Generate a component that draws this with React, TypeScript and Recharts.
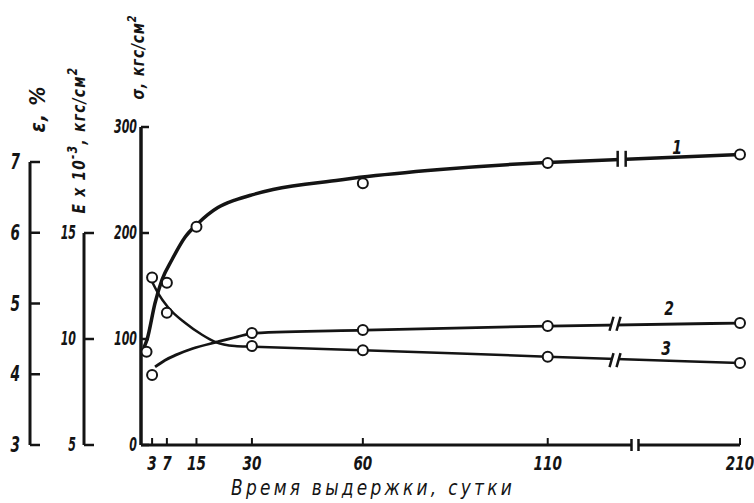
import React from 'react';
import { ComposedChart, LineChart, Line, XAxis, YAxis, ReferenceDot } from 'recharts';

// ---- axis ticks ----
const dayTicks = [3, 7, 15, 30, 60, 110, 210];
const sigmaTicks = [0, 100, 200, 300];
const modulusTicks = [5, 10, 15];
const strainTicks = [3, 4, 5, 6, 7];

// ---- curve 1: tensile strength σ, kgf/cm² ----
const sigmaCurveDays = [0.8, 1.6, 3.8, 5.7, 8.4, 11.9, 15.4, 20.8, 25.4, 30, 35.7, 53.8, 59.2, 80.9, 99, 110, 210];
const sigmaCurveVals = [92, 99, 134, 156, 175, 196, 209, 224, 231, 236, 241, 250, 252.5, 260, 264.5, 266.5, 274];
const sigmaPointDays = [1.5, 7, 15, 60, 110, 210];
const sigmaPointVals = [88, 153, 206, 247, 266, 274];

// ---- curve 2: modulus E×10^-3, kgf/cm² ----
const modulusCurveDays = [3.8, 6.5, 9.5, 14, 20.6, 26, 30.5, 60.6, 110, 210];
const modulusCurveVals = [8.68, 9.0, 9.25, 9.55, 9.86, 10.1, 10.28, 10.42, 10.61, 10.75];
const modulusPointDays = [3, 30, 60, 110, 210];
const modulusPointVals = [8.3, 10.28, 10.42, 10.61, 10.75];

// ---- curve 3: elongation ε, % ----
const strainCurveDays = [3, 4.6, 7.3, 11.9, 16.5, 20, 25.4, 30, 60, 110, 210];
const strainCurveVals = [5.31, 5.15, 4.95, 4.73, 4.56, 4.46, 4.4, 4.39, 4.34, 4.25, 4.16];
const strainPointDays = [3, 7, 30, 60, 110, 210];
const strainPointVals = [5.37, 4.87, 4.4, 4.34, 4.25, 4.16];

// broken time axis: after 110 days the scale is compressed
const BREAK_DAY = 110;
const COMPRESS = 0.52;
const toAxis = (d: number) => (d <= BREAK_DAY ? d : BREAK_DAY + (d - BREAK_DAY) * COMPRESS);
const pairs = (days: number[], vals: number[]) => days.map((d, i) => ({ x: toAxis(d), v: vals[i] }));

const sigmaCurve = pairs(sigmaCurveDays, sigmaCurveVals);
const sigmaPoints = pairs(sigmaPointDays, sigmaPointVals);
const modulusCurve = pairs(modulusCurveDays, modulusCurveVals);
const modulusPoints = pairs(modulusPointDays, modulusPointVals);
const strainCurve = pairs(strainCurveDays, strainCurveVals);
const strainPoints = pairs(strainPointDays, strainPointVals);

const INK = '#141414';
const FONT = "'DejaVu Sans', sans-serif";
const FONT_C = "'DejaVu Sans Condensed', 'DejaVu Sans', sans-serif";

const NText = (props: any) => {
  const { x, y, size, sx = 0.7, rot = 0, anchor = 'middle', weight = 700, spacing = 0, family = FONT, children } = props;
  return (
    <text
      transform={`translate(${x} ${y}) rotate(${rot}) scale(${sx} 1)`}
      x={0}
      y={0}
      textAnchor={anchor}
      dominantBaseline="central"
      fontSize={size}
      letterSpacing={spacing}
      style={{ fontFamily: family, fontStyle: 'italic', fontWeight: weight, fill: INK }}
    >
      {children}
    </text>
  );
};

const YTick = (props: any) => {
  const { x, y, payload, tickLen, gap, size, sx } = props;
  return (
    <g>
      <line x1={x} x2={x + tickLen} y1={y} y2={y} stroke={INK} strokeWidth={2.5} />
      <NText x={x - gap} y={y} size={size} sx={sx} anchor="end">
        {payload.value}
      </NText>
    </g>
  );
};

const XTick = (props: any) => {
  const { x, y, index } = props;
  return (
    <g>
      <line x1={x} x2={x} y1={y} y2={y - 7} stroke={INK} strokeWidth={2} />
      <NText x={x} y={y + 18} size={20} sx={0.68}>
        {dayTicks[index]}
      </NText>
    </g>
  );
};

const BreakMark = (props: any) => {
  const { cx, cy, slant, h, gap } = props;
  return (
    <g>
      <rect x={cx - gap / 2} y={cy - 4} width={gap} height={8} fill="#fff" />
      <line x1={cx - gap / 2 - slant} y1={cy + h} x2={cx - gap / 2 + slant} y2={cy - h} stroke={INK} strokeWidth={2.5} />
      <line x1={cx + gap / 2 - slant} y1={cy + h} x2={cx + gap / 2 + slant} y2={cy - h} stroke={INK} strokeWidth={2.5} />
    </g>
  );
};

const CurveLabel = (props: any) => (
  <NText x={props.cx} y={props.cy} size={20} sx={0.7}>
    {props.text}
  </NText>
);

const dotStyle = { r: 5, fill: '#fff', stroke: INK, strokeWidth: 2 };

export default function App() {
  return (
    <div style={{ position: 'absolute', left: 0, top: 0, width: 754, height: 503, background: '#fff' }}>
      <div style={{ position: 'absolute', left: 0, top: 0 }}>
        <ComposedChart width={754} height={503} margin={{ top: 127, right: 14, bottom: 28, left: 101 }}>
          <XAxis
            dataKey="x"
            type="number"
            domain={[0, toAxis(210)]}
            ticks={dayTicks.map(toAxis)}
            interval={0}
            height={30}
            tickSize={0}
            tickMargin={0}
            tickLine={false}
            axisLine={{ stroke: INK, strokeWidth: 3 }}
            tick={(p: any) => <XTick {...p} />}
            label={{
              content: (p: any) => {
                const vb = p.viewBox;
                return (
                  <NText x={vb.x + 232} y={vb.y + 43} size={21} sx={0.9} weight={400} spacing={3.6} family={FONT_C}>
                    Время выдержки, сутки
                  </NText>
                );
              },
            }}
          />
          <YAxis
            yAxisId="s"
            type="number"
            domain={[0, 300]}
            ticks={sigmaTicks}
            width={40}
            tickSize={0}
            tickMargin={0}
            tickLine={false}
            axisLine={{ stroke: INK, strokeWidth: 3.5 }}
            tick={(p: any) => <YTick {...p} tickLen={8} gap={4} size={19} sx={0.58} />}
            label={{
              content: (p: any) => {
                const vb = p.viewBox;
                return (
                  <NText x={vb.x + vb.width - 3} y={vb.y - 70} rot={-90} size={18} sx={0.85} spacing={1} family={FONT_C}>
                    σ, кгс/см<tspan dy={-6} fontSize={13}>2</tspan>
                  </NText>
                );
              },
            }}
          />
          <YAxis yAxisId="E" hide width={0} type="number" domain={[5, 20]} />
          <YAxis yAxisId="eps" hide width={0} type="number" domain={[3, 7.5]} />

          <Line yAxisId="s" data={sigmaCurve} dataKey="v" type="monotone" stroke={INK} strokeWidth={3.5} dot={false} activeDot={false} isAnimationActive={false} />
          <Line yAxisId="E" data={modulusCurve} dataKey="v" type="monotone" stroke={INK} strokeWidth={2.8} dot={false} activeDot={false} isAnimationActive={false} />
          <Line yAxisId="eps" data={strainCurve} dataKey="v" type="monotone" stroke={INK} strokeWidth={2.5} dot={false} activeDot={false} isAnimationActive={false} />

          <ReferenceDot yAxisId="s" x={130} y={270} ifOverflow="visible" shape={(p: any) => <BreakMark {...p} slant={0} h={8} gap={8} />} />
          <ReferenceDot yAxisId="E" x={128.2} y={10.72} ifOverflow="visible" shape={(p: any) => <BreakMark {...p} slant={2} h={7} gap={7} />} />
          <ReferenceDot yAxisId="eps" x={128.2} y={4.2} ifOverflow="visible" shape={(p: any) => <BreakMark {...p} slant={2} h={7} gap={7} />} />
          <ReferenceDot yAxisId="s" x={133.6} y={0} ifOverflow="visible" shape={(p: any) => <BreakMark {...p} slant={0} h={6} gap={7} />} />

          <Line yAxisId="s" data={sigmaPoints} dataKey="v" stroke="none" dot={dotStyle} activeDot={false} isAnimationActive={false} />
          <Line yAxisId="E" data={modulusPoints} dataKey="v" stroke="none" dot={dotStyle} activeDot={false} isAnimationActive={false} />
          <Line yAxisId="eps" data={strainPoints} dataKey="v" stroke="none" dot={dotStyle} activeDot={false} isAnimationActive={false} />

          <ReferenceDot yAxisId="s" x={145} y={281} ifOverflow="visible" shape={(p: any) => <CurveLabel {...p} text="1" />} />
          <ReferenceDot yAxisId="E" x={142.8} y={11.46} ifOverflow="visible" shape={(p: any) => <CurveLabel {...p} text="2" />} />
          <ReferenceDot yAxisId="eps" x={142} y={4.37} ifOverflow="visible" shape={(p: any) => <CurveLabel {...p} text="3" />} />
        </ComposedChart>
      </div>

      {/* E×10^-3 axis */}
      <div style={{ position: 'absolute', left: 0, top: 0 }}>
        <LineChart width={100} height={503} data={modulusPoints} margin={{ top: 233, bottom: 58, left: 44, right: 0 }}>
          <XAxis hide dataKey="x" type="number" domain={[0, 'dataMax']} />
          <YAxis
            type="number"
            domain={[5, 15]}
            ticks={modulusTicks}
            width={40}
            tickSize={0}
            tickMargin={0}
            tickLine={false}
            axisLine={{ stroke: INK, strokeWidth: 3 }}
            tick={(p: any) => <YTick {...p} tickLen={10} gap={8} size={19} sx={0.58} />}
            label={{
              content: (p: any) => {
                const vb = p.viewBox;
                return (
                  <NText x={vb.x + vb.width - 5} y={vb.y - 93} rot={-90} size={18} sx={0.85} spacing={1.5} family={FONT_C}>
                    E x 10<tspan dy={-7} fontSize={14}>-3</tspan><tspan dy={7}>, кгс/см</tspan><tspan dy={-7} fontSize={14}>2</tspan>
                  </NText>
                );
              },
            }}
          />
          <Line dataKey="v" stroke="none" dot={false} activeDot={false} isAnimationActive={false} />
        </LineChart>
      </div>

      {/* ε axis */}
      <div style={{ position: 'absolute', left: 0, top: 0 }}>
        <LineChart width={60} height={503} data={strainPoints} margin={{ top: 162, bottom: 58, left: 0, right: 0 }}>
          <XAxis hide dataKey="x" type="number" domain={[0, 'dataMax']} />
          <YAxis
            type="number"
            domain={[3, 7]}
            ticks={strainTicks}
            width={30}
            tickSize={0}
            tickMargin={0}
            tickLine={false}
            axisLine={{ stroke: INK, strokeWidth: 3 }}
            tick={(p: any) => <YTick {...p} tickLen={10} gap={10} size={21} sx={0.65} />}
            label={{
              content: (p: any) => {
                const vb = p.viewBox;
                return (
                  <NText x={vb.x + vb.width + 7} y={vb.y - 53} rot={-90} size={22} sx={0.95} spacing={1} family={FONT_C}>
                    ε, %
                  </NText>
                );
              },
            }}
          />
          <Line dataKey="v" stroke="none" dot={false} activeDot={false} isAnimationActive={false} />
        </LineChart>
      </div>
    </div>
  );
}
